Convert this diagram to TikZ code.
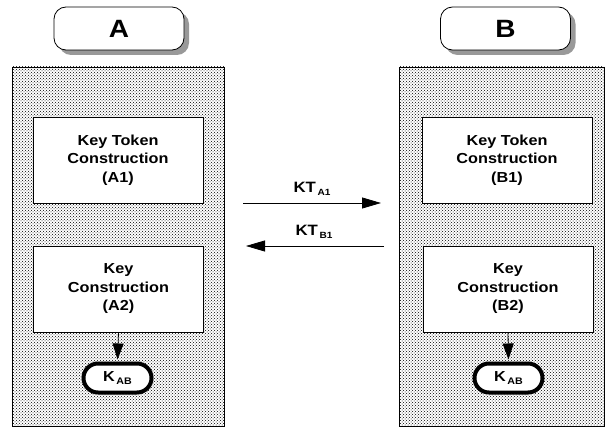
\documentclass[tikz,border=0pt]{standalone}
\usepackage{fontspec}
\setmainfont{Liberation Sans}[FakeStretch=1.12]
\usetikzlibrary{patterns,shadows,arrows.meta}
\newcommand{\subtxt}[2]{\hspace{1.5pt}\raisebox{-3pt}{\fontsize{#1}{#1}\selectfont #2}}
\begin{document}
\begin{tikzpicture}[x=1pt,y=-1pt,
  panel/.style={draw=black, line width=0.8pt, pattern=crosshatch dots, pattern color=black,
    inner sep=0pt, minimum height=359pt},
  titlebox/.style={draw=black, line width=0.8pt, fill=white, rounded corners=12pt,
    minimum width=130pt, minimum height=43pt, inner sep=0pt,
    font=\fontsize{25}{25}\selectfont\bfseries,
    drop shadow={shadow xshift=5pt, shadow yshift=-5pt, fill=black!40, opacity=1}},
  stepbox/.style={draw=black, line width=0.8pt, fill=white, align=center, inner sep=0pt,
    minimum width=170pt, minimum height=86pt, font=\fontsize{14.5}{18.5}\selectfont\bfseries},
  keybox/.style={draw=black, line width=4pt, fill=white, rounded corners=14.5pt, inner sep=0pt,
    minimum width=68pt, minimum height=29pt, font=\fontsize{14.5}{14.5}\selectfont\bfseries},
  msg/.style={line width=0.8pt, -{Triangle[length=19pt,width=11pt]}},
  down/.style={line width=0.8pt, -{Triangle[length=16pt,width=11pt]}, shorten >=2pt},
  lbl/.style={font=\fontsize{15}{15}\selectfont\bfseries, inner sep=0pt}
]
\useasboundingbox (0,0) rectangle (605,428);

% panels
\node[panel, minimum width=212pt] (pA) at (118,246.5) {};
\node[panel, minimum width=205pt] (pB) at (501.5,246.5) {};

% titles
\node[titlebox] (tA) at (119,28.5) {A};
\node[titlebox] (tB) at (505.5,28.5) {B};

% steps
\node[stepbox] (A1) at (118,160) {Key Token\\Construction\\(A1)};
\node[stepbox] (A2) at (118.5,289) {Key\\Construction\\(A2)};
\node[stepbox] (B1) at (507,160) {Key Token\\Construction\\(B1)};
\node[stepbox] (B2) at (508,289) {Key\\Construction\\(B2)};

% keys
\node[keybox] (KA) at (117.5,378) {K\subtxt{9.5}{AB}};
\node[keybox] (KB) at (508.5,378) {K\subtxt{9.5}{AB}};

\draw[down] (A2.south) -- (KA.north);
\draw[down] (B2.south) -- (KB.north);

% messages
\coordinate (m1s) at (243,203);
\coordinate (m1e) at (381,203);
\coordinate (m2s) at (384,246);
\coordinate (m2e) at (246,246);
\draw[msg] (m1s) -- (m1e);
\draw[msg] (m2s) -- (m2e);
\node[lbl] (l1) at (312,189) {KT\subtxt{9}{A1}};
\node[lbl] (l2) at (314,232) {KT\subtxt{9}{B1}};
\end{tikzpicture}
\end{document}
